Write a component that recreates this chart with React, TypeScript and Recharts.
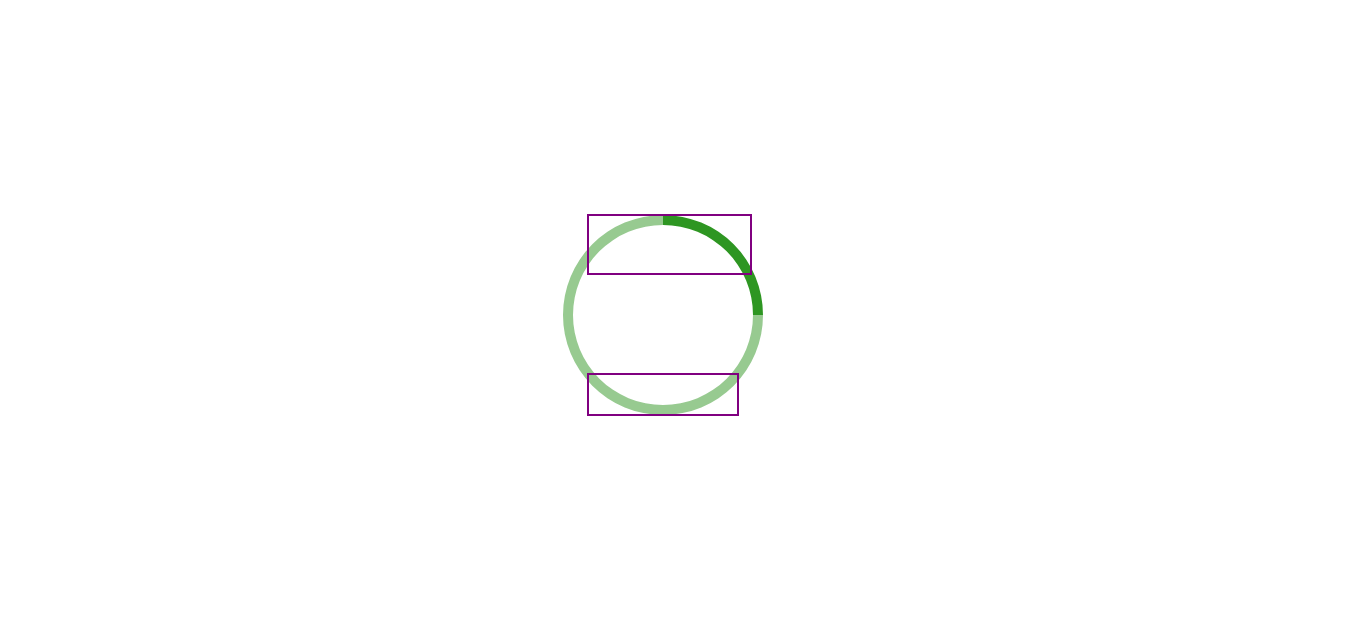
import { useEffect } from 'react';
import { PieChart, Pie, Cell } from 'recharts';

const names = ['done', 'left'];
const values = [25, 75];
const colors = ['#2E9622', '#97CA90'];

// outline boxes, offsets from the ring centre: [left, top, right, bottom]
const boxes = [
  [-75, -100, 88, -41],
  [-75, 59, 75, 100],
];

const W = 1310;
const H = 1982;
const PAGE = 2173;
const SCROLL = 684;

const data = names.map((name, i) => ({ name, value: values[i] }));

// drawn above the pie so the outlines sit on top of the ring
const Boxes = () => {
  const cx = W / 2;
  const cy = H / 2;
  return (
    <svg
      width={W}
      height={H}
      style={{ position: 'absolute', left: 0, top: 0, pointerEvents: 'none' }}
    >
      {boxes.map(([l, t, r, b], i) => (
        <rect
          key={i}
          x={cx + l}
          y={cy + t}
          width={r - l}
          height={b - t}
          fill='none'
          stroke='purple'
          strokeWidth={2}
        />
      ))}
    </svg>
  );
};

const App = () => {
  useEffect(() => {
    window.scrollTo(0, SCROLL);
  }, []);

  return (
    <div style={{ height: PAGE }}>
      <div style={{ position: 'relative', width: W, height: H }}>
        <PieChart width={W} height={H}>
          <Pie
            data={data}
            dataKey='value'
            nameKey='name'
            cx='50%'
            cy='50%'
            innerRadius={90}
            outerRadius={100}
            startAngle={90}
            endAngle={-270}
            stroke='none'
            isAnimationActive={false}
          >
            {data.map((d, i) => (
              <Cell key={d.name} fill={colors[i]} />
            ))}
          </Pie>
        </PieChart>
        <Boxes />
      </div>
    </div>
  );
};

export default App;
